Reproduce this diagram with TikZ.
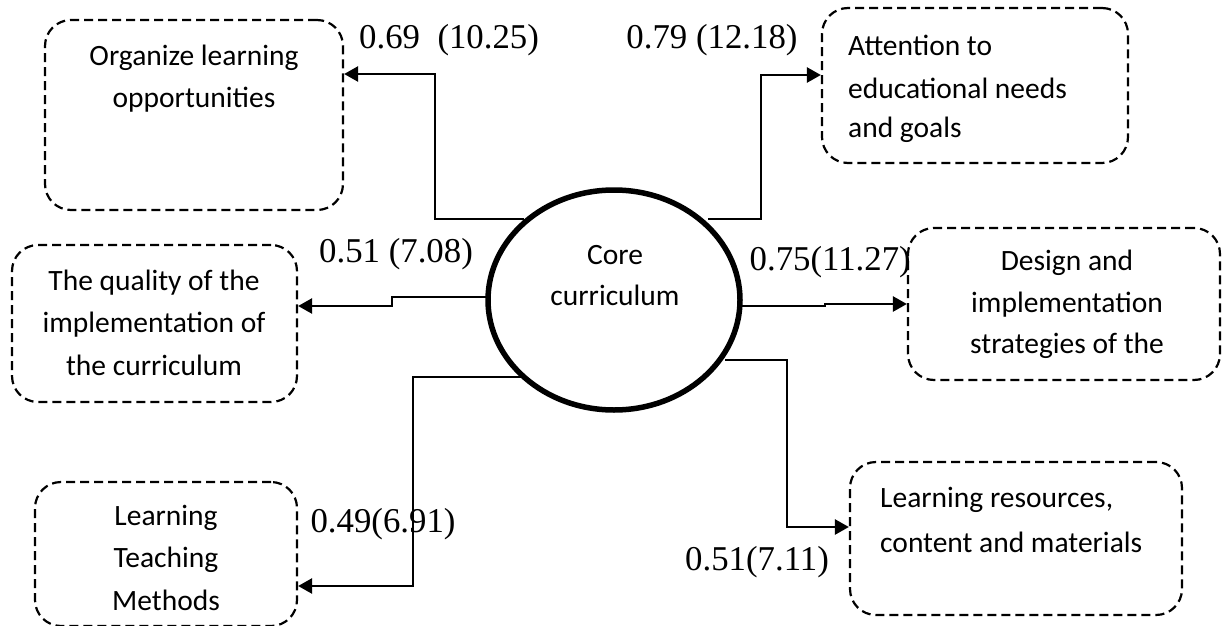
\documentclass[tikz,border=0pt]{standalone}
\usepackage{fontspec}
\setmainfont{Liberation Serif}
\newfontfamily\boxfont{Carlito}
\usetikzlibrary{arrows.meta,shapes.geometric}
\tikzset{
  box/.style={draw, line width=2.2pt, dash pattern=on 9pt off 5pt, rounded corners=26pt, inner sep=0pt},
  lbl/.style={font=\boxfont\fontsize{29.5}{40}\selectfont, inner sep=0pt},
  num/.style={font=\fontsize{34.8}{40}\selectfont, inner sep=0pt},
  arr/.style={line width=2.5pt, -{Triangle[length=14pt,width=15pt]}},
  core/.style={draw, ellipse, line width=5.5pt, minimum width=252pt, minimum height=220pt, inner sep=0pt}
}
\begin{document}
\begin{tikzpicture}[x=1pt,y=-1pt]
\useasboundingbox (0,0) rectangle (1223,626);
% boxes
\node[box, minimum width=298pt, minimum height=190pt] (b1) at (194,115) {};
\node[box, minimum width=306pt, minimum height=155pt] (b2) at (975,85.5) {};
\node[box, minimum width=285pt, minimum height=157pt] (b3) at (154.5,323.5) {};
\node[box, minimum width=312pt, minimum height=152pt] (b4) at (1064,304) {};
\node[box, minimum width=262pt, minimum height=144pt] (b5) at (166,554) {};
\node[box, minimum width=332pt, minimum height=153pt] (b6) at (1016,538.5) {};
% core
\node[core] (core) at (614,300) {};
\node[lbl] (c1) at (615,255) {Core};
\node[lbl] (c2) at (615,295) {curriculum};
% box texts
\node[lbl] (t1a) at (194,58) {Organize learning};
\node[lbl] (t1b) at (194,100) {opportunities};
\node[lbl, anchor=west] (t2a) at (848,45) {Attention to};
\node[lbl, anchor=west] (t2b) at (848,88) {educational needs};
\node[lbl, anchor=west] (t2c) at (848,130) {and goals};
\node[lbl] (t3a) at (154,283) {The quality of the};
\node[lbl] (t3b) at (154,325) {implementation of};
\node[lbl] (t3c) at (154,365) {the curriculum};
\node[lbl] (t4a) at (1067,263) {Design and};
\node[lbl] (t4b) at (1067,305) {implementation};
\node[lbl] (t4c) at (1067,346) {strategies of the};
\node[lbl] (t5a) at (166,518) {Learning};
\node[lbl] (t5b) at (166,560) {Teaching};
\node[lbl] (t5c) at (166,600) {Methods};
\node[lbl, anchor=west] (t6a) at (880,500) {Learning resources,};
\node[lbl, anchor=west] (t6b) at (880,542) {content and materials};
% numbers
\node[num, anchor=west] (n1) at (359,40) {0.69\ \ (10.25)};
\node[num] (n2) at (712,40) {0.79 (12.18)};
\node[num] (n3) at (396,254) {0.51 (7.08)};
\node[num, anchor=east] (n4) at (911,262) {0.75(11.27)};
\node[num] (n5) at (383,524) {0.49(6.91)};
\node[num] (n6) at (757,562) {0.51(7.11)};
% start points on the ellipse
\coordinate (s1) at (524,219);
\coordinate (s2) at (708,219);
\coordinate (s3) at (489,297);
\coordinate (s4) at (739,306);
\coordinate (s5) at (521,377);
\coordinate (s6) at (725,360);
% connectors
\draw[arr] (s1) -- (435,219) -- (435,74) -- (b1.east |- 0,74);
\draw[arr] (s2) -- (761,219) -- (761,75) -- (b2.west |- 0,75);
\draw[arr] (s3) -- (392,297) -- (392,306) -- (b3.east |- 0,306);
\draw[arr] (s4) -- (825,306) -- (825,304) -- (b4.west |- 0,304);
\draw[arr] (s5) -- (413,377) -- (413,586) -- (b5.east |- 0,586);
\draw[arr] (s6) -- (787,360) -- (787,527) -- (b6.west |- 0,527);
\end{tikzpicture}
\end{document}
